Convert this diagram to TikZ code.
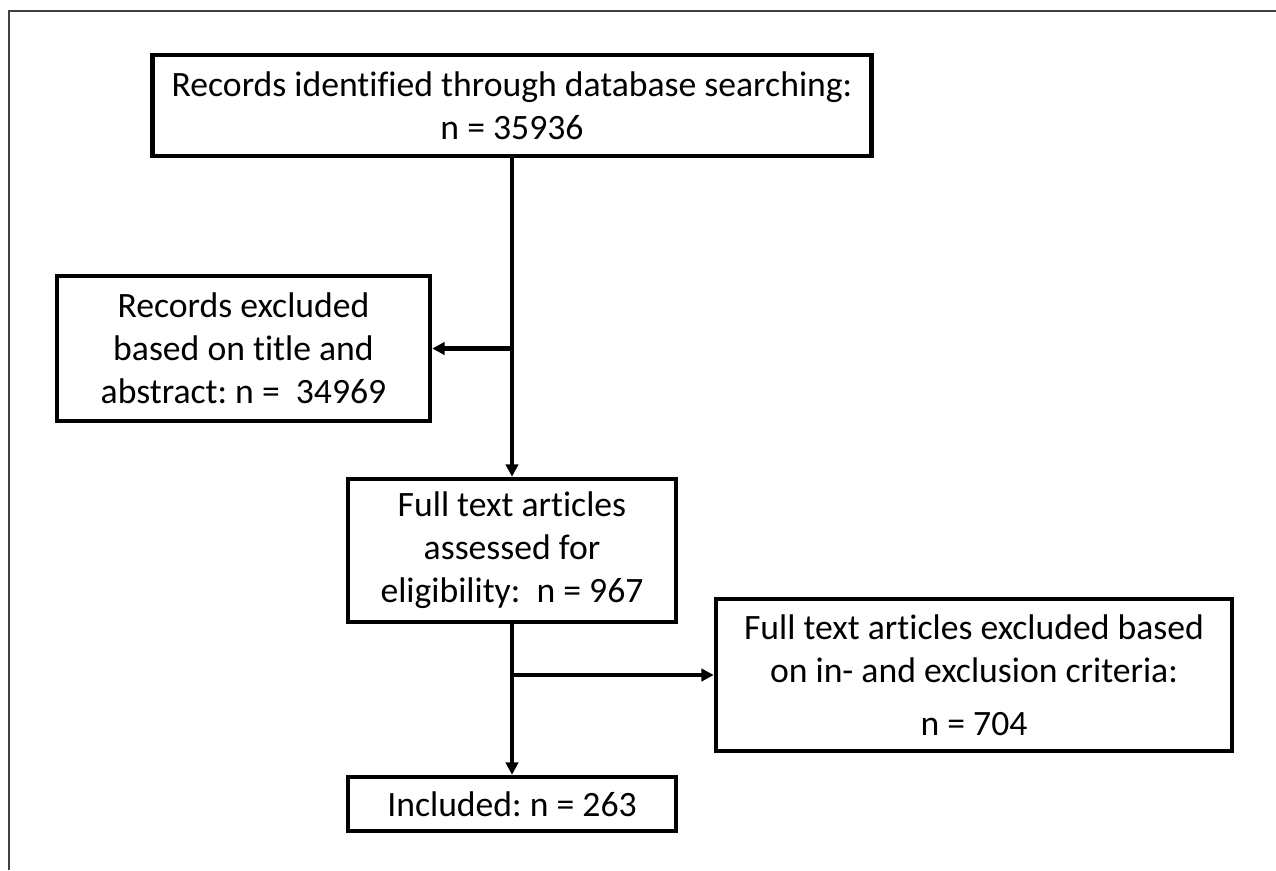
\documentclass[tikz,border=0pt]{standalone}
\usepackage{fontspec}
\setmainfont[Ligatures=NoCommon]{Carlito}
\frenchspacing
\usetikzlibrary{arrows.meta,positioning}

\begin{document}
\begin{tikzpicture}[
        x=0.02cm, y=-0.02cm,
        box/.style={draw, line width=2.6pt, inner sep=0pt, align=center,
            font=\fontsize{20.3pt}{24.4pt}\selectfont},
        link/.style={line width=2.3pt, -{Triangle[length=7pt,width=7pt]}},
        frame/.style={line width=1.1pt, draw=black!75}
    ]
        \useasboundingbox (0,0) rectangle (1276,870);
        \draw[frame] (9,870) |- (1276,11);

        \node[box, minimum width=719*0.02cm, minimum height=101*0.02cm] (records) at (512,105.5) {Records identified through database searching:\\n = 35936};
        \node[box, minimum width=373*0.02cm, minimum height=145*0.02cm] (excluded) at (243.5,348.5) {Records excluded\\based on title and\\abstract: n = \ 34969};
        \node[box, minimum width=328*0.02cm, minimum height=143*0.02cm] (fulltext) at (512,550.5) {Full text articles\\assessed for\\eligibility: \ n = 967};
        \node[box, minimum width=516*0.02cm, minimum height=152*0.02cm] (criteria) at (974,675) {Full text articles excluded based\\on in- and exclusion criteria:\\[6pt]n = 704};
        \node[box, minimum width=328*0.02cm, minimum height=54*0.02cm] (included) at (512,804) {Included: n = 263};

        \coordinate (split1) at (fulltext.north |- excluded.east);
        \coordinate (split2) at (fulltext.south |- criteria.west);

        \draw[link] (records) -- (fulltext);
        \draw[link] (split1) -- (excluded);
        \draw[link] (fulltext) -- (included);
        \draw[link] (split2) -- (criteria);
    \end{tikzpicture}
\end{document}
